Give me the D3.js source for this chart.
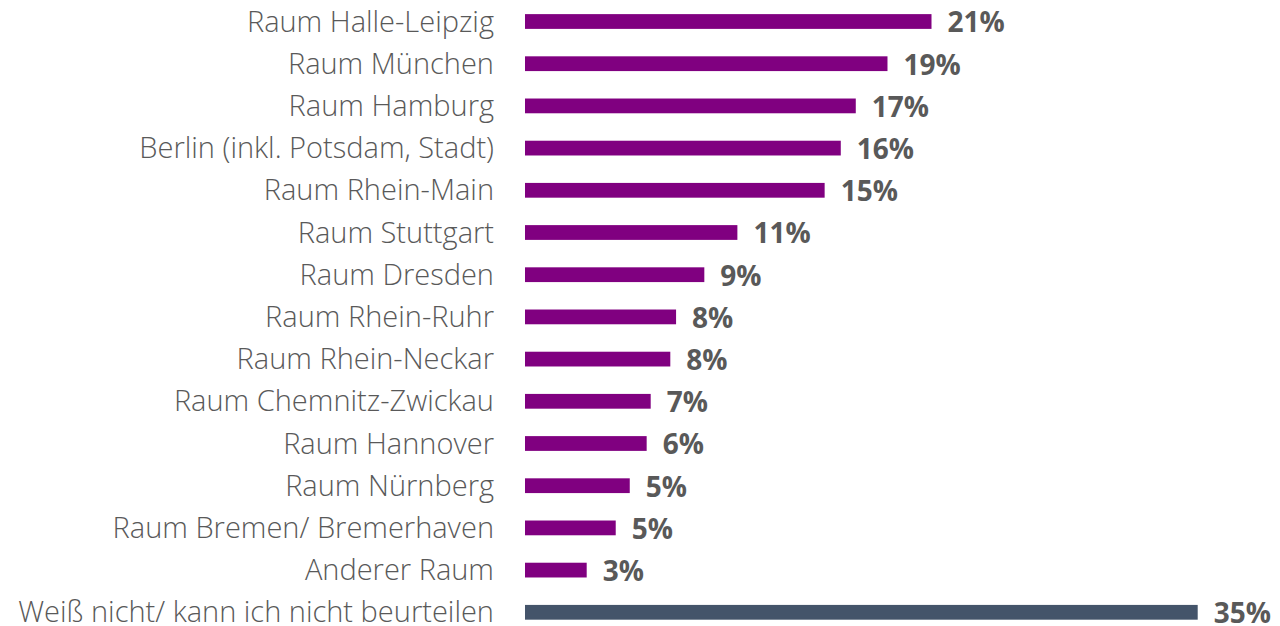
<!DOCTYPE html>
<meta charset="utf-8">
<script src="https://cdn.jsdelivr.net/npm/d3@7/dist/d3.min.js"></script>
<style>
  body { margin: 0; background: #fff; }
  svg text { font-family: "Open Sans", sans-serif; }
</style>
<div id="chart"></div>
<script>
// categories top to bottom
var categories = [
  "Raum Halle-Leipzig", "Raum München", "Raum Hamburg", "Berlin (inkl. Potsdam, Stadt)",
  "Raum Rhein-Main", "Raum Stuttgart", "Raum Dresden", "Raum Rhein-Ruhr",
  "Raum Rhein-Neckar", "Raum Chemnitz-Zwickau", "Raum Hannover", "Raum Nürnberg",
  "Raum Bremen/ Bremerhaven", "Anderer Raum", "Weiß nicht/ kann ich nicht beurteilen"
];
// bar lengths
var values = [21.15, 18.86, 17.21, 16.43, 15.59, 11.05, 9.33, 7.86, 7.56, 6.54, 6.33, 5.45, 4.72, 3.21, 35];
// printed labels
var valueLabels = ["21%", "19%", "17%", "16%", "15%", "11%", "9%", "8%", "8%", "7%", "6%", "5%", "5%", "3%", "35%"];

var width = 1280, height = 626;
var svg = d3.select("#chart").append("svg").attr("width", width).attr("height", height);

var x = d3.scaleLinear().domain([0, 35]).range([525, 1197.7]);
var y = d3.scaleBand().domain(categories).range([0.4, 633.4]).paddingInner(0.65).paddingOuter(0.325);

var rows = svg.selectAll("g.row").data(categories).enter().append("g").attr("class", "row");

rows.append("rect")
  .attr("x", x(0))
  .attr("y", function (d) { return y(d); })
  .attr("width", function (d, i) { return x(values[i]) - x(0); })
  .attr("height", y.bandwidth())
  .attr("fill", function (d, i) { return i == categories.length - 1 ? "#44546A" : "#800080"; });

rows.append("text")
  .attr("x", 494)
  .attr("y", function (d) { return y(d) + y.bandwidth() / 2; })
  .attr("dy", "0.35em")
  .attr("text-anchor", "end")
  .style("font-size", "29px")
  .style("font-weight", 300)
  .style("fill", "#595959")
  .text(function (d) { return d; });

rows.append("text")
  .attr("x", function (d, i) { return x(values[i]) + 16; })
  .attr("y", function (d) { return y(d) + y.bandwidth() / 2 + 1; })
  .attr("dy", "0.35em")
  .style("font-size", "28px")
  .style("font-weight", 700)
  .style("fill", "#595959")
  .text(function (d, i) { return valueLabels[i]; });
</script>
